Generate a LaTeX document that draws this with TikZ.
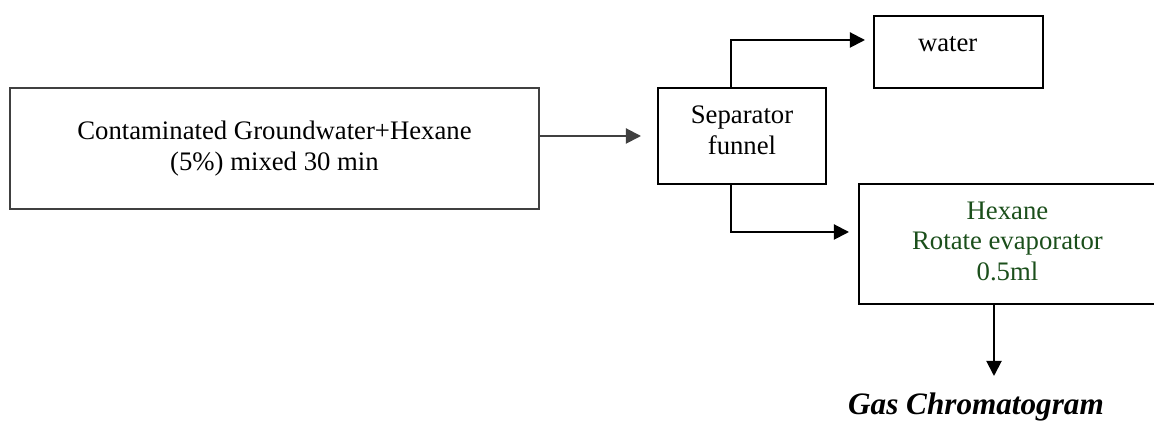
\documentclass[tikz,border=0pt]{standalone}
\usepackage{fontspec}
\setmainfont{Liberation Serif}
\usepackage{xcolor}
\usepackage{tikz}
\usetikzlibrary{arrows.meta,positioning}
\definecolor{hexgreen}{HTML}{1B4F1B}
\definecolor{dline}{HTML}{404040}
\newcommand{\px}[1]{#1*0.449pt}

\begin{document}
\begin{tikzpicture}[x=0.449pt,y=-0.449pt,
  font=\fontsize{12}{13.8}\selectfont,
  box/.style={draw,line width=0.9pt,align=center,inner sep=0pt},
  w/.style={-{Triangle[length=6.8pt,width=6.8pt]},line width=0.9pt}]
  \useasboundingbox (0,0) rectangle (1154,421);
  \clip (0,0) rectangle (1154,421);
  \node[box,draw=dline,minimum width=\px{529},minimum height=\px{121}] (mix) at (274.5,148.5)
       {Contaminated Groundwater+Hexane\\(5\%) mixed 30 min};
  \node[box,minimum width=\px{168},minimum height=\px{96},text depth=5.5pt] (sep) at (742,136)
       {Separator\\funnel};
  \node[box,minimum width=\px{169},minimum height=\px{72},inner xsep=\px{44},text width=\px{81},
        align=left,text depth=7.6pt] (water) at (958.5,52) {water};
  \node[box,text=hexgreen,minimum width=\px{297},minimum height=\px{120},text depth=2.5pt] (hex)
       at (1007.5,244) {Hexane\\Rotate evaporator\\0.5ml};
  \node[font=\fontsize{14}{16}\selectfont\bfseries\itshape,anchor=base] (gc) at (976,415)
       {Gas Chromatogram};
  \coordinate (gcin) at (994,376);
  \draw[w,draw=dline,fill=dline,shorten >=\px{16}] (mix.east |- sep.west) -- (sep.west);
  \draw[w,shorten >=\px{8}] ([xshift=-\px{11}]sep.north) |- ([yshift=\px{12}]water.west);
  \draw[w,shorten >=\px{9}] ([xshift=-\px{11}]sep.south) |- ([yshift=\px{12}]hex.west);
  \draw[w] (hex.south -| gcin) -- (gcin);
\end{tikzpicture}
\end{document}
